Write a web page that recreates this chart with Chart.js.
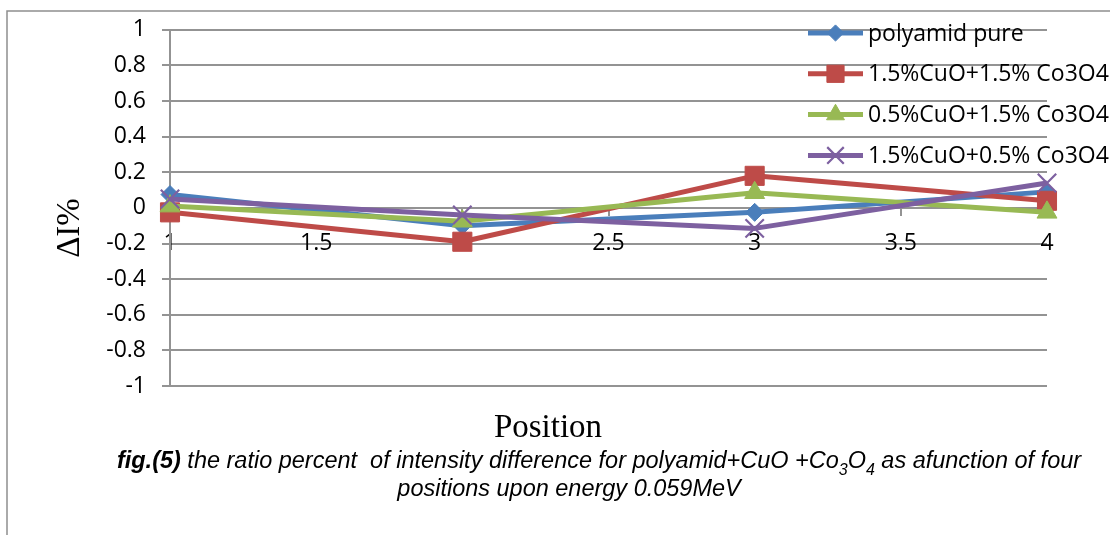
<!DOCTYPE html>
<html><head><meta charset="utf-8">
<script src="https://cdn.jsdelivr.net/npm/chart.js@4.4.1/dist/chart.umd.min.js"></script>
<style>html,body{margin:0;padding:0;background:#fff;}#wrap{width:1110px;height:535px;}</style>
</head><body><div id="wrap"><canvas id="c" width="1110" height="535"></canvas></div>
<script>
// ---- data ----
const positions = [1, 2, 3, 4];
const seriesNames = ['polyamid pure', '1.5%CuO+1.5% Co3O4', '0.5%CuO+1.5% Co3O4', '1.5%CuO+0.5% Co3O4'];
const polyamidPure = [0.075, -0.10, -0.025, 0.09];
const cuo15co15 = [-0.025, -0.19, 0.18, 0.04];
const cuo05co15 = [0.01, -0.075, 0.085, -0.025];
const cuo15co05 = [0.05, -0.04, -0.115, 0.14];
const xTickStep = 0.5;
const yTickStep = 0.2;
const yTitle = 'ΔI%';
const xTitle = 'Position';
const captionLine1 = [
  {t: 'fig.(5)', b: true},
  {t: ' the ratio percent  of intensity difference for polyamid+CuO +Co'},
  {t: '3', sub: true},
  {t: 'O'},
  {t: '4', sub: true},
  {t: ' as afunction of four'}
];
const captionLine2 = [{t: 'positions upon energy 0.059MeV'}];

// ---- styles ----
const colors = ['#4A7EBB', '#BE4B48', '#98B954', '#7D60A0'];
const pStyles = ['rectRot', 'rect', 'triangle', 'crossRot'];
const pRadius = [9, 13.5, 11.5, 13];
const pBorder = [1, 1, 1, 2.2];
const seriesValues = [polyamidPure, cuo15co15, cuo05co15, cuo15co05];
const GRID = '#939393';
const TICKFONT = {family: '"Open Sans"', size: 23};

const datasets = seriesValues.map((vals, i) => ({
  label: seriesNames[i],
  data: positions.map((x, k) => ({x: x, y: vals[k]})),
  borderColor: colors[i],
  backgroundColor: colors[i],
  borderWidth: 5,
  borderJoinStyle: 'round',
  tension: 0,
  fill: false,
  clip: false,
  pointStyle: pStyles[i],
  pointRadius: pRadius[i],
  pointBackgroundColor: colors[i],
  pointBorderColor: colors[i],
  pointBorderWidth: pBorder[i],
  order: seriesValues.length - i
}));

const decor = {
  id: 'decor',
  beforeDraw(chart) {
    const ctx = chart.ctx;
    ctx.save();
    ctx.fillStyle = '#fff';
    ctx.fillRect(0, 0, chart.width, chart.height);
    ctx.strokeStyle = '#8e8e8e';
    ctx.lineWidth = 1.5;
    ctx.beginPath();
    ctx.moveTo(7, 535);
    ctx.lineTo(7, 11);
    ctx.lineTo(1110, 11);
    ctx.stroke();
    ctx.restore();
  },
  afterDraw(chart) {
    const ctx = chart.ctx;
    ctx.save();
    // legend
    chart.data.datasets.forEach((ds, i) => {
      const y = 33 + i * 40.8;
      ctx.strokeStyle = ds.borderColor;
      ctx.lineWidth = 5;
      ctx.lineCap = 'butt';
      ctx.beginPath();
      ctx.moveTo(808, y);
      ctx.lineTo(863, y);
      ctx.stroke();
      ctx.fillStyle = ds.pointBackgroundColor;
      ctx.strokeStyle = ds.pointBorderColor;
      ctx.lineWidth = ds.pointBorderWidth;
      Chart.helpers.drawPoint(ctx, {pointStyle: ds.pointStyle, radius: ds.pointRadius * 0.9, rotation: 0, borderWidth: ds.pointBorderWidth}, 835.5, y);
      ctx.fillStyle = '#000';
      ctx.font = '23px "Open Sans"';
      ctx.textAlign = 'left';
      ctx.textBaseline = 'middle';
      ctx.fillText(ds.label, 868, y + 1);
    });
    // axis titles
    ctx.fillStyle = '#000';
    ctx.font = '33px "Liberation Serif"';
    ctx.textAlign = 'center';
    ctx.textBaseline = 'alphabetic';
    ctx.fillText(xTitle, 548, 437);
    ctx.save();
    ctx.translate(79, 228);
    ctx.rotate(-Math.PI / 2);
    ctx.fillText(yTitle, 0, 0);
    ctx.restore();
    // caption: fit line 1 to its width in the reference
    const size = fitSize(ctx, captionLine1, 965, 20);
    drawRuns(ctx, captionLine1, 599, 468, size);
    drawRuns(ctx, captionLine2, 569, 496, size);
    ctx.restore();
  }
};

function runFont(r, size) {
  const s = r.sub ? Math.round(size * 0.68) : size;
  return 'italic ' + (r.b ? 'bold ' : '') + s + 'px "Liberation Sans"';
}
function runsWidth(ctx, runs, size) {
  let total = 0;
  runs.forEach(r => { ctx.font = runFont(r, size); total += ctx.measureText(r.t).width; });
  return total;
}
function fitSize(ctx, runs, target, base) {
  return base * target / runsWidth(ctx, runs, base);
}
function drawRuns(ctx, runs, cx, y, size) {
  const total = runsWidth(ctx, runs, size);
  let x = cx - total / 2;
  ctx.textAlign = 'left';
  ctx.textBaseline = 'alphabetic';
  ctx.fillStyle = '#000';
  runs.forEach(r => {
    ctx.font = runFont(r, size);
    ctx.fillText(r.t, x, y + (r.sub ? size * 0.3 : 0));
    x += ctx.measureText(r.t).width;
  });
}

new Chart(document.getElementById('c'), {
  type: 'line',
  data: {datasets: datasets},
  options: {
    responsive: false,
    animation: false,
    devicePixelRatio: 1,
    layout: {padding: {top: 29, right: 63, bottom: 149, left: 0}},
    plugins: {legend: {display: false}, tooltip: {enabled: false}},
    events: [],
    scales: {
      x: {
        type: 'linear',
        position: {y: 0},
        min: 1, max: 4,
        ticks: {stepSize: xTickStep, color: '#000', font: TICKFONT, padding: 15, maxRotation: 0,
          callback: v => String(Math.round(v * 10) / 10)},
        grid: {drawOnChartArea: false, tickLength: 7, color: GRID, tickColor: GRID, lineWidth: 2},
        border: {display: true, color: GRID, width: 2}
      },
      y: {
        min: -1, max: 1,
        ticks: {stepSize: yTickStep, color: '#000', font: TICKFONT, padding: 16,
          callback: v => String(Math.round(v * 10) / 10)},
        grid: {color: GRID, tickColor: GRID, lineWidth: 2, tickLength: 8},
        border: {display: true, color: GRID, width: 2},
        afterFit(scale) { scale.width = 170; }
      }
    }
  },
  plugins: [decor]
});
</script>
</body></html>
